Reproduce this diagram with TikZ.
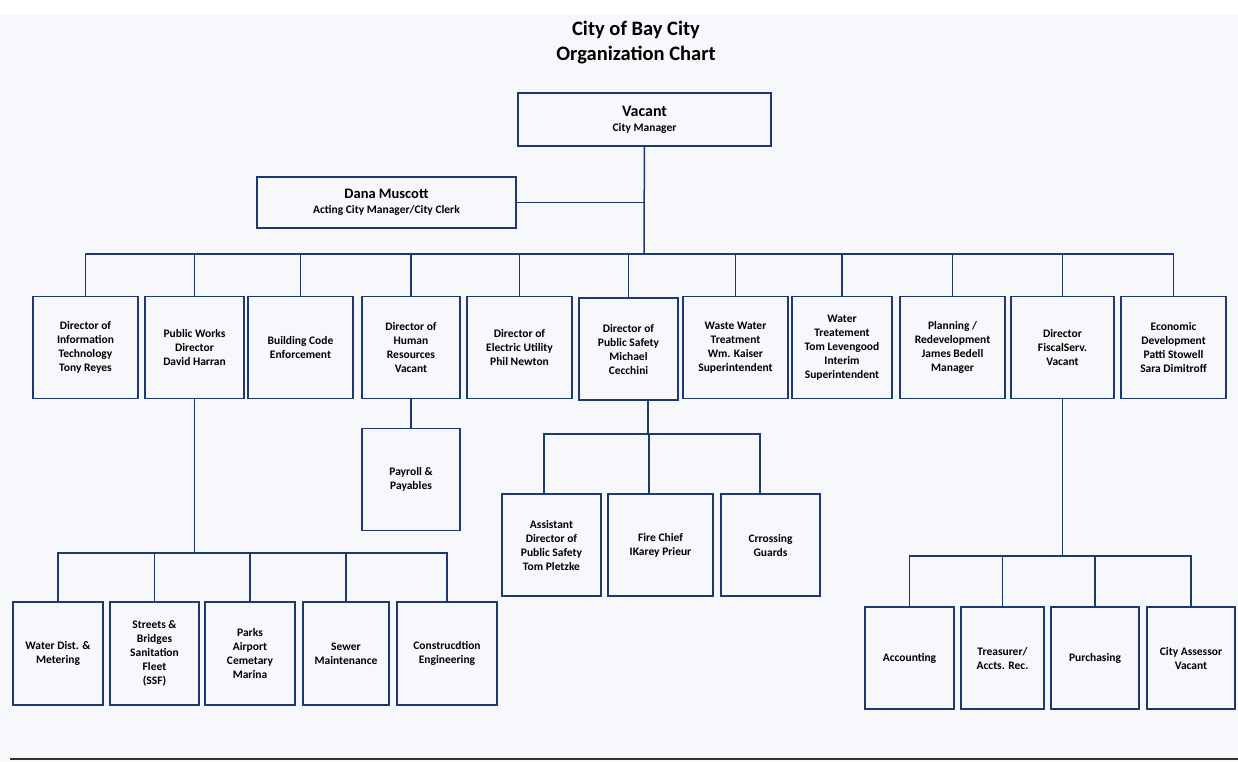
\documentclass[tikz,border=0pt]{standalone}
\usepackage{fontspec}
\setmainfont{Carlito}
\usetikzlibrary{positioning}
\definecolor{navy}{RGB}{31,56,110}
\definecolor{paper}{RGB}{247,248,251}
\tikzset{
    every picture/.style={
        x=1pt,y=-1pt,
        unit/.style={draw=navy,line width=1.6pt,align=center,inner sep=2pt,
            minimum width=##1,minimum height=102pt,
            font=\bfseries\fontsize{11.5}{14}\selectfont},
        unit/.default=104pt,
        link/.style={draw=navy,line width=1.5pt}
    }
}

\begin{document}
\begin{tikzpicture}
    \fill[paper] (0,0) rectangle (1238,761);
    \fill[white] (0,0) rectangle (1238,14);
    \useasboundingbox (0,0) rectangle (1238,761);

    \node[font=\bfseries\fontsize{20.5}{25}\selectfont,align=center] (title) at (636,43) {City of Bay City\\Organization Chart};

    \node[unit=253pt,minimum height=53pt] (vac) at (644.5,119.5)
        {{\fontsize{16}{17}\selectfont Vacant}\\[1pt]{\fontsize{11.5}{12}\selectfont City Manager}};
    \node[unit=259pt,minimum height=51pt] (dana) at (386.5,202.5)
        {{\fontsize{14.5}{17}\selectfont Dana Muscott}\\[1pt]{\fontsize{11.5}{12}\selectfont Acting City Manager/City Clerk}};

    % directors
    \node[unit=105pt] (it)  at (85.5,347.5)  {Director of\\Information\\Technology\\Tony Reyes};
    \node[unit=99pt]  (pw)  at (194.5,347.5) {Public Works\\Director\\David Harran};
    \node[unit=105pt] (bce) at (300.5,347.5) {Building Code\\Enforcement};
    \node[unit=98pt]  (hr)  at (411,347.5)   {Director of\\Human\\Resources\\Vacant};
    \node[unit=105pt] (eu)  at (519.5,347.5) {Director of\\Electric Utility\\Phil Newton};
    \node[unit=99pt]  (ps)  at (628.5,349)   {Director of\\Public Safety\\Michael\\Cecchini};
    \node[unit=105pt] (wwt) at (735.5,347.5) {Waste Water\\Treatment\\Wm. Kaiser\\Superintendent};
    \node[unit=100pt] (wt)  at (842,347.5)   {Water\\Treatement\\Tom Levengood\\Interim\\Superintendent};
    \node[unit=105pt] (pr)  at (952.5,347.5) {Planning /\\Redevelopment\\James Bedell\\Manager};
    \node[unit=103pt] (fs)  at (1062.5,347.5) {Director\\FiscalServ.\\Vacant};
    \node[unit=105pt] (ed)  at (1173.5,347.5) {Economic\\Development\\Patti Stowell\\Sara Dimitroff};

    % human resources
    \node[unit=98pt] (pay) at (411,479.5) {Payroll \&\\Payables};

    % public safety
    \node[unit=99pt]  (asst)  at (551.5,545) {Assistant\\Director of\\Public Safety\\Tom Pletzke};
    \node[unit=105pt] (fire)  at (660.5,545) {Fire Chief\\IKarey Prieur};
    \node[unit=99pt]  (cross) at (770.5,545) {Crrossing\\Guards};

    % public works
    \node[unit=90pt,minimum height=103pt]  (wd) at (58,653.5)    {Water Dist. \&\\Metering};
    \node[unit=89pt,minimum height=103pt]  (sb) at (154.5,653.5) {Streets \&\\Bridges\\Sanitation\\Fleet\\(SSF)};
    \node[unit=90pt,minimum height=103pt]  (pk) at (250,653.5)   {Parks\\Airport\\Cemetary\\Marina};
    \node[unit=86pt,minimum height=103pt]  (sw) at (346,653.5)   {Sewer\\Maintenance};
    \node[unit=100pt,minimum height=103pt] (ce) at (447,653.5)   {Construcdtion\\Engineering};

    % fiscal services
    \node[unit=89pt] (acc) at (909.5,658)  {Accounting};
    \node[unit=83pt] (tr)  at (1002.5,658) {Treasurer/\\Accts. Rec.};
    \node[unit=88pt] (pur) at (1095,658)   {Purchasing};
    \node[unit=88pt] (asr) at (1191,658)   {City Assessor\\Vacant};

    \coordinate (top)   at (644,254);
    \coordinate (psbus) at (648,434);
    \coordinate (pwbus) at (194.5,553);
    \coordinate (fsbus) at (1062.5,556);

    \draw[link] (vac) -- (top);
    \draw[link] (dana.east) -- (dana.east -| vac.south);
    \foreach \d in {it,pw,bce,hr,eu,ps,wwt,wt,pr,fs,ed}
        \draw[link] (top) -| (\d.north);

    \draw[link] (hr) -- (pay);

    \draw[link] (ps.south -| psbus) -- (psbus);
    \draw[link] (psbus) -| ([xshift=-7.5pt]asst.north);
    \draw[link] (psbus) -| ([xshift=-11.5pt]fire.north);
    \draw[link] (psbus) -| ([xshift=-10.5pt]cross.north);

    \draw[link] (pw) -- (pwbus);
    \foreach \d in {wd,sb,pk,sw,ce}
        \draw[link] (pwbus) -| (\d.north);

    \draw[link] (fs) -- (fsbus);
    \foreach \d in {acc,tr,pur,asr}
        \draw[link] (fsbus) -| (\d.north);

    \draw[line width=2.5pt,black!80] (10,759) -- (1238,759);
\end{tikzpicture}
\end{document}
